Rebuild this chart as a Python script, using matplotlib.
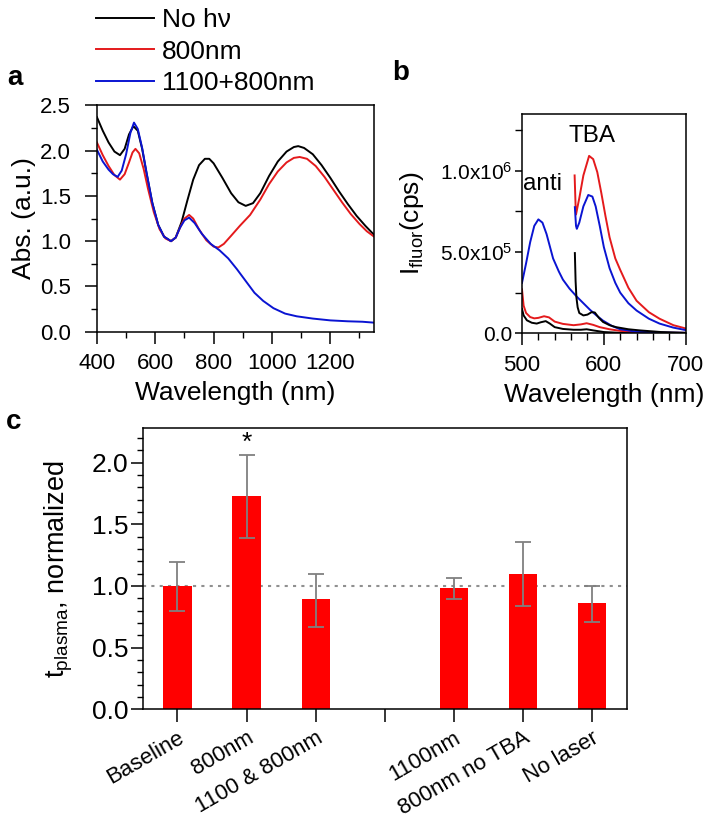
import matplotlib.pyplot as plt
from matplotlib.ticker import MultipleLocator
from matplotlib.transforms import ScaledTranslation

plt.rcParams['font.family'] = ['Liberation Sans', 'DejaVu Sans']
plt.rcParams['mathtext.fontset'] = 'custom'
plt.rcParams['mathtext.rm'] = 'Liberation Sans'
plt.rcParams['mathtext.it'] = 'Liberation Sans:italic'

# panel a: absorbance spectra
nm_black = [400, 420, 440, 460, 479, 495, 510, 525, 540, 555, 570, 590, 610, 630, 654, 670, 690, 710, 730, 750,
            770, 785, 800, 830, 860, 885, 910, 935, 960, 990, 1020, 1050, 1075, 1090, 1110, 1140, 1170, 1200,
            1230, 1260, 1290, 1320, 1350]
abs_black = [2.37, 2.22, 2.09, 1.99, 1.95, 2.02, 2.18, 2.27, 2.22, 2.02, 1.75, 1.42, 1.18, 1.05, 1.00, 1.04, 1.21,
             1.45, 1.68, 1.84, 1.91, 1.91, 1.86, 1.70, 1.53, 1.43, 1.39, 1.42, 1.53, 1.72, 1.88, 1.99, 2.04, 2.05,
             2.03, 1.96, 1.84, 1.70, 1.55, 1.41, 1.28, 1.17, 1.07]
nm_red = [400, 420, 440, 460, 479, 495, 510, 522, 532, 545, 560, 575, 595, 615, 635, 654, 670, 685, 700, 716, 730,
          750, 775, 800, 816, 835, 860, 890, 925, 960, 990, 1020, 1050, 1075, 1095, 1120, 1150, 1180, 1210, 1240,
          1270, 1300, 1325, 1350]
abs_red = [2.09, 1.95, 1.83, 1.73, 1.68, 1.74, 1.87, 1.98, 2.02, 1.97, 1.80, 1.58, 1.32, 1.13, 1.03, 1.00, 1.04,
           1.15, 1.25, 1.29, 1.25, 1.13, 1.01, 0.94, 0.93, 0.97, 1.06, 1.17, 1.29, 1.46, 1.63, 1.77, 1.87, 1.92,
           1.93, 1.91, 1.83, 1.71, 1.57, 1.43, 1.30, 1.19, 1.11, 1.05]
nm_blue = [400, 420, 440, 455, 471, 485, 500, 515, 527, 540, 555, 570, 590, 610, 630, 654, 670, 685, 700, 716, 735,
           760, 790, 820, 850, 880, 910, 940, 970, 1005, 1045, 1085, 1140, 1200, 1260, 1310, 1350]
abs_blue = [2.01, 1.88, 1.79, 1.74, 1.71, 1.78, 1.96, 2.20, 2.31, 2.24, 2.03, 1.76, 1.42, 1.18, 1.05, 1.00, 1.04,
            1.15, 1.23, 1.26, 1.20, 1.08, 0.97, 0.90, 0.81, 0.69, 0.56, 0.43, 0.34, 0.26, 0.20, 0.17, 0.145, 0.125,
            0.115, 0.11, 0.10]
legend_labels = ['No h\u03bd', '800nm', '1100+800nm']

# panel b: fluorescence (anti and TBA channels)
b_blue_anti_x = [500, 505, 510, 515, 520, 525, 530, 538, 545, 550, 558, 567, 575, 583, 591, 599, 610, 620, 640, 670, 700]
b_blue_anti_y = [3.1e5, 4.3e5, 5.6e5, 6.6e5, 7.0e5, 6.8e5, 6.1e5, 4.6e5, 3.8e5, 3.3e5, 2.75e5, 2.25e5, 1.85e5,
                 1.45e5, 1.1e5, 0.78e5, 0.45e5, 0.25e5, 0.1e5, 0.05e5, 0.03e5]
b_blue_tba_x = [564.6, 566, 567, 570, 575, 581, 586, 590, 595, 600, 607, 614, 620, 630, 640, 655, 668, 685, 700]
b_blue_tba_y = [7.75e5, 6.6e5, 6.42e5, 6.8e5, 7.8e5, 8.5e5, 8.4e5, 7.8e5, 6.6e5, 5.3e5, 4.0e5, 3.1e5, 2.5e5,
                1.85e5, 1.4e5, 0.9e5, 0.6e5, 0.35e5, 0.2e5]
b_red_tba_x = [564.3, 565.5, 566, 570, 575, 582, 587, 592, 597, 602, 607, 614, 620, 630, 640, 655, 668, 685, 700]
b_red_tba_y = [9.7e5, 7.8e5, 7.3e5, 8.3e5, 9.7e5, 1.09e6, 1.07e6, 9.9e5, 8.6e5, 7.2e5, 5.9e5, 4.6e5, 3.9e5,
               2.8e5, 2.0e5, 1.3e5, 0.9e5, 0.5e5, 0.3e5]
b_red_anti_x = [500, 502, 505, 510, 515, 520, 527, 533, 540, 550, 563, 572, 579, 587, 595, 607, 620, 640, 670, 700]
b_red_anti_y = [2.7e5, 1.7e5, 1.25e5, 1.0e5, 0.92e5, 0.95e5, 1.05e5, 0.98e5, 0.72e5, 0.58e5, 0.5e5, 0.55e5,
                0.62e5, 0.52e5, 0.38e5, 0.25e5, 0.15e5, 0.08e5, 0.04e5, 0.03e5]
b_black_anti_x = [500, 502, 506, 512, 518, 523, 529, 534, 540, 550, 563, 572, 579, 587, 600, 620, 700]
b_black_anti_y = [1.5e5, 1.1e5, 0.8e5, 0.65e5, 0.6e5, 0.68e5, 0.75e5, 0.6e5, 0.38e5, 0.27e5, 0.22e5, 0.22e5,
                  0.25e5, 0.18e5, 0.08e5, 0.03e5, 0.01e5]
b_black_tba_x = [564.6, 565.5, 566.5, 568, 570, 575, 580, 585, 589, 594, 599, 607, 615, 630, 644, 670, 700]
b_black_tba_y = [4.93e5, 3.2e5, 2.2e5, 1.6e5, 1.25e5, 1.1e5, 1.15e5, 1.3e5, 1.28e5, 0.95e5, 0.7e5, 0.5e5,
                 0.38e5, 0.25e5, 0.18e5, 0.08e5, 0.03e5]

# panel c: normalized plasma half-life
categories = ['Baseline', '800nm', '1100 & 800nm', '', '1100nm', '800nm no TBA', 'No laser']
values = [1.00, 1.73, 0.89, None, 0.98, 1.10, 0.86]
err_low = [0.80, 1.39, 0.67, None, 0.89, 0.84, 0.71]
err_high = [1.19, 2.06, 1.10, None, 1.06, 1.36, 1.00]

fig = plt.figure(figsize=(7.18, 8.17), dpi=100)
tick_fs = 16
label_fs = 19


def style_axis(ax):
    for s in ax.spines.values():
        s.set_linewidth(1.1)
    ax.tick_params(which='major', direction='out', length=8.5, width=1.1, pad=2, labelsize=tick_fs,
                   top=False, right=False)
    ax.tick_params(which='minor', direction='out', length=4, width=1.0, top=False, right=False)


# --- panel a
ax1 = fig.add_axes([0.135, 0.594, 0.386, 0.277])
l1, = ax1.plot(nm_black, abs_black, color='black', lw=1.4)
l2, = ax1.plot(nm_red, abs_red, color='#e41a1c', lw=1.4)
l3, = ax1.plot(nm_blue, abs_blue, color='#0a14d2', lw=1.4)
ax1.set_xlim(400, 1350)
ax1.set_ylim(0, 2.5)
ax1.xaxis.set_major_locator(MultipleLocator(200))
ax1.xaxis.set_minor_locator(MultipleLocator(100))
ax1.yaxis.set_major_locator(MultipleLocator(0.5))
ax1.yaxis.set_minor_locator(MultipleLocator(0.25))
style_axis(ax1)
ax1.tick_params(axis='x', which='major', pad=7)
ax1.tick_params(axis='y', which='major', pad=10)
ax1.set_xlabel('Wavelength (nm)', fontsize=label_fs, labelpad=5)
ax1.set_ylabel('Abs. (a.u.)', fontsize=label_fs, labelpad=3)
ax1.legend([l1, l2, l3], legend_labels, loc='upper left', bbox_to_anchor=(0.134, 0.99),
           bbox_transform=fig.transFigure, frameon=False, fontsize=19, borderpad=0, borderaxespad=0,
           handlelength=2.2, handletextpad=0.3, labelspacing=0.28)

# --- panel b
ax2 = fig.add_axes([0.727, 0.592, 0.228, 0.269])
ax2.plot(b_black_anti_x, b_black_anti_y, color='black', lw=1.4)
ax2.plot(b_red_anti_x, b_red_anti_y, color='#e41a1c', lw=1.4)
ax2.plot(b_blue_anti_x, b_blue_anti_y, color='#0a14d2', lw=1.4)
ax2.plot(b_black_tba_x, b_black_tba_y, color='black', lw=1.4)
ax2.plot(b_red_tba_x, b_red_tba_y, color='#e41a1c', lw=1.4)
ax2.plot(b_blue_tba_x, b_blue_tba_y, color='#0a14d2', lw=1.4)
ax2.set_xlim(500, 700)
ax2.set_ylim(0, 1.35e6)
ax2.set_xticks([500, 600, 700])
ax2.xaxis.set_minor_locator(MultipleLocator(20))
ax2.set_yticks([0, 5e5, 1e6], labels=['0.0', r'5.0x10$^{5}$', r'1.0x10$^{6}$'])
ax2.yaxis.set_minor_locator(MultipleLocator(2.5e5))
style_axis(ax2)
ax2.tick_params(axis='y', which='major', labelsize=15, length=5, pad=2)
ax2.tick_params(axis='y', which='minor', length=5)
ax2.tick_params(axis='x', which='major', labelsize=16, pad=7)
ax2.tick_params(axis='x', which='minor', length=5)
ax2.set_xlabel('Wavelength (nm)', fontsize=label_fs, labelpad=5)
ax2.set_ylabel(r'I$_{\mathregular{fluor}}$(cps)', fontsize=label_fs, labelpad=10)
ax2.text(585, 1.21e6, 'TBA', fontsize=17.5, ha='center', va='center')
ax2.text(501, 9.2e5, 'anti', fontsize=17.5, ha='left', va='center')

# --- panel c
ax3 = fig.add_axes([0.199, 0.132, 0.674, 0.344])
xs = [i for i, v in enumerate(values) if v is not None]
vals = [values[i] for i in xs]
yerr = [[values[i] - err_low[i] for i in xs], [err_high[i] - values[i] for i in xs]]
ax3.bar(xs, vals, width=0.41, color='#ff0000', zorder=2)
ax3.errorbar(xs, vals, yerr=yerr, fmt='none', ecolor='#808080', elinewidth=1.3, capsize=6, capthick=1.3, zorder=3)
ax3.axhline(1.0, color='#909090', ls=(0, (1.5, 2.5)), lw=1.5, zorder=1)
ax3.text(1, 2.16, '*', fontsize=19, ha='center', va='center')
ax3.set_xlim(-0.5, 6.5)
ax3.set_ylim(0, 2.28)
ax3.set_xticks(range(len(categories)))
ax3.set_xticklabels(categories, rotation=30, ha='right', va='top', rotation_mode='anchor', fontsize=15.5)
shift = ScaledTranslation(6 / 72, 0, fig.dpi_scale_trans)
for lab in ax3.get_xticklabels():
    lab.set_transform(lab.get_transform() + shift)
ax3.yaxis.set_major_locator(MultipleLocator(0.5))
ax3.yaxis.set_minor_locator(MultipleLocator(0.1))
style_axis(ax3)
ax3.tick_params(axis='y', labelsize=19)
ax3.tick_params(axis='x', length=9, pad=4)
ax3.set_ylabel(r't$_{\mathregular{plasma}}$, normalized', fontsize=19.5, labelpad=12)

# panel letters
fig.text(0.021, 0.905, 'a', fontsize=20, fontweight='bold', ha='center', va='center')
fig.text(0.558, 0.911, 'b', fontsize=20, fontweight='bold', ha='center', va='center')
fig.text(0.019, 0.483, 'c', fontsize=20, fontweight='bold', ha='center', va='center')

fig.savefig('out.png', dpi=100)
